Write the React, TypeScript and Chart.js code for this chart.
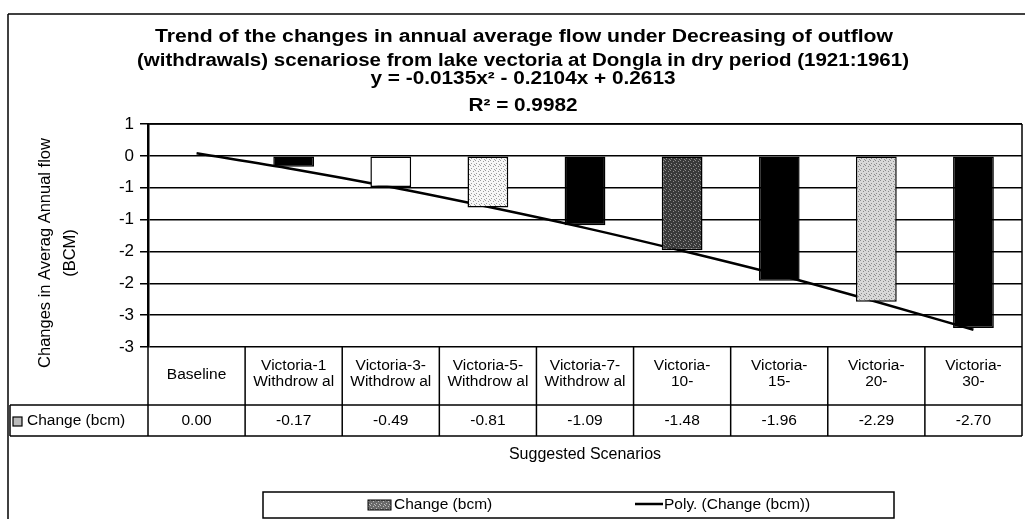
import React, { useEffect, useRef } from 'react';
import { Chart, registerables } from 'chart.js';

Chart.register(...registerables);

// ---------------- data ----------------
const CATEGORY_LINES: string[][] = [
  ['Baseline'],
  ['Victoria-1', 'Withdrow al'],
  ['Victoria-3-', 'Withdrow al'],
  ['Victoria-5-', 'Withdrow al'],
  ['Victoria-7-', 'Withdrow al'],
  ['Victoria-', '10-'],
  ['Victoria-', '15-'],
  ['Victoria-', '20-'],
  ['Victoria-', '30-'],
];
const CHANGE = [0.0, -0.17, -0.49, -0.81, -1.09, -1.48, -1.96, -2.29, -2.7];
// polynomial trend line values read at each category
const TREND = [0.04, -0.21, -0.49, -0.8, -1.13, -1.49, -1.87, -2.29, -2.73];
const Y_TICKS = [0.5, 0, -0.5, -1, -1.5, -2, -2.5, -3];
const Y_TICK_LABELS = ['1', '0', '-1', '-1', '-2', '-2', '-3', '-3'];

const TITLE_LINES = [
  'Trend of the changes in annual average flow under Decreasing of outflow',
  '(withdrawals) scenariose from lake vectoria at Dongla in dry period (1921:1961)',
];
const EQUATION = 'y = -0.0135x² - 0.2104x + 0.2613';
const R_SQUARED = 'R² = 0.9982';
const Y_TITLE = ['Changes in Averag Annual flow', '(BCM)'];
const X_TITLE = 'Suggested Scenarios';
const SERIES_NAME = 'Change (bcm)';
const TREND_NAME = 'Poly. (Change (bcm))';

// ---------------- styles ----------------
// [base colour, speckle colour] per bar
const BAR_STYLES: [string, string | null][] = [
  ['#000000', null],
  ['#000000', null],
  ['#ffffff', null],
  ['#f6f6f6', '#9a9a9a'],
  ['#000000', null],
  ['#3a3a3a', '#8c8c8c'],
  ['#000000', null],
  ['#d8d8d8', '#8a8a8a'],
  ['#000000', null],
];
const FONT = '"Liberation Sans", Arial, sans-serif';

function makeFill(base: string, speck: string | null): any {
  if (!speck) return base;
  const c = document.createElement('canvas');
  c.width = 5;
  c.height = 5;
  const g = c.getContext('2d')!;
  g.fillStyle = base;
  g.fillRect(0, 0, 5, 5);
  g.fillStyle = speck;
  g.fillRect(0, 0, 1, 1);
  g.fillRect(3, 1, 1, 1);
  g.fillRect(1, 3, 1, 1);
  g.fillRect(4, 4, 1, 1);
  return g.createPattern(c, 'repeat');
}

function fitText(ctx: CanvasRenderingContext2D, text: string, cx: number, cy: number, font: string, width: number) {
  ctx.save();
  ctx.font = font;
  ctx.textAlign = 'center';
  ctx.textBaseline = 'middle';
  const w = ctx.measureText(text).width;
  ctx.translate(cx, cy);
  ctx.scale(width / w, 1);
  ctx.fillText(text, 0, 0);
  ctx.restore();
}

function line(ctx: CanvasRenderingContext2D, x1: number, y1: number, x2: number, y2: number, w = 1.5) {
  ctx.save();
  ctx.strokeStyle = '#000';
  ctx.lineWidth = w;
  ctx.beginPath();
  ctx.moveTo(x1, y1);
  ctx.lineTo(x2, y2);
  ctx.stroke();
  ctx.restore();
}

const decorPlugin = {
  id: 'decor',
  beforeDraw(chart: any) {
    const ctx = chart.ctx as CanvasRenderingContext2D;
    ctx.save();
    ctx.fillStyle = '#fff';
    ctx.fillRect(0, 0, chart.width, chart.height);
    ctx.restore();
  },
  afterDraw(chart: any) {
    const ctx = chart.ctx as CanvasRenderingContext2D;
    const area = chart.chartArea;
    const xs = chart.scales.x;
    const n = CATEGORY_LINES.length;
    const colW = (area.right - area.left) / n;
    ctx.save();
    ctx.fillStyle = '#000';

    // outer chart border
    line(ctx, 8, 14, chart.width, 14, 1.5);
    line(ctx, 8, 14, 8, chart.height, 1.5);

    // plot area border (top + right)
    line(ctx, area.left, area.top, area.right, area.top, 1.5);
    line(ctx, area.right, area.top, area.right, area.bottom, 1.5);

    // title, equation, R²
    ctx.fillStyle = '#000';
    fitText(ctx, TITLE_LINES[0], 524, 37, `bold 18px ${FONT}`, 738);
    fitText(ctx, TITLE_LINES[1], 523, 61, `bold 18px ${FONT}`, 772);
    fitText(ctx, EQUATION, 523, 79, `bold 18px ${FONT}`, 305);
    fitText(ctx, R_SQUARED, 523, 106, `bold 18px ${FONT}`, 109);

    // y-axis title (rotated)
    ctx.save();
    ctx.font = `16.5px ${FONT}`;
    ctx.textAlign = 'center';
    ctx.textBaseline = 'middle';
    ctx.translate(45, 253);
    ctx.rotate(-Math.PI / 2);
    ctx.fillText(Y_TITLE[0], 0, 0);
    ctx.fillText(Y_TITLE[1], 0, 25);
    ctx.restore();

    // data table
    const headTop = area.bottom;
    const headBottom = 405;
    const rowBottom = 436;
    for (let i = 0; i <= n; i++) {
      const x = area.left + i * colW;
      line(ctx, x, headTop, x, rowBottom, 1.5);
    }
    line(ctx, 10, headBottom, area.right, headBottom, 1.5);
    line(ctx, 10, rowBottom, area.right, rowBottom, 1.5);
    line(ctx, 10, headBottom, 10, rowBottom, 1.5);

    ctx.font = `15.5px ${FONT}`;
    ctx.textAlign = 'center';
    ctx.textBaseline = 'middle';
    ctx.fillStyle = '#000';
    CATEGORY_LINES.forEach((lines, i) => {
      const cx = xs.getPixelForValue(i);
      if (lines.length === 1) {
        ctx.fillText(lines[0], cx, 375);
      } else {
        ctx.fillText(lines[0], cx, 366);
        ctx.fillText(lines[1], cx, 382);
      }
      ctx.fillText(CHANGE[i].toFixed(2), cx, 421);
    });

    // legend key in table
    ctx.save();
    ctx.fillStyle = '#bbb';
    ctx.fillRect(13, 417, 9, 9);
    ctx.strokeStyle = '#000';
    ctx.lineWidth = 1.2;
    ctx.strokeRect(13, 417, 9, 9);
    ctx.restore();
    ctx.textAlign = 'left';
    ctx.fillText(SERIES_NAME, 27, 421);

    // x-axis title
    ctx.textAlign = 'center';
    ctx.font = `16px ${FONT}`;
    ctx.fillText(X_TITLE, (area.left + area.right) / 2, 455);

    // legend box
    ctx.save();
    ctx.strokeStyle = '#000';
    ctx.lineWidth = 1.5;
    ctx.strokeRect(263, 492, 631, 26);
    ctx.restore();
    ctx.save();
    ctx.fillStyle = makeFill('#6a6a6a', '#bdbdbd');
    ctx.fillRect(368, 500, 23, 10);
    ctx.strokeStyle = '#000';
    ctx.lineWidth = 1;
    ctx.strokeRect(368, 500, 23, 10);
    ctx.restore();
    ctx.font = `15.5px ${FONT}`;
    ctx.textAlign = 'left';
    ctx.fillText(SERIES_NAME, 394, 505);
    line(ctx, 635, 504, 663, 504, 2.5);
    ctx.fillText(TREND_NAME, 664, 505);

    ctx.restore();
  },
};

export default function App() {
  const ref = useRef<HTMLCanvasElement | null>(null);

  useEffect(() => {
    if (!ref.current) return;
    const fills = BAR_STYLES.map(([b, s]) => makeFill(b, s));
    const chart = new Chart(ref.current, {
      type: 'bar',
      data: {
        labels: CATEGORY_LINES.map((l) => l.join(' ')),
        datasets: [
          {
            type: 'bar',
            label: SERIES_NAME,
            data: CHANGE,
            backgroundColor: fills,
            borderColor: '#000',
            borderWidth: 1.5,
            borderSkipped: false,
            barPercentage: 0.42,
            categoryPercentage: 1,
            order: 0,
          } as any,
          {
            type: 'line',
            label: TREND_NAME,
            data: TREND,
            borderColor: '#000',
            borderWidth: 2.5,
            pointRadius: 0,
            fill: false,
            cubicInterpolationMode: 'monotone',
            order: 1,
          } as any,
        ],
      },
      options: {
        responsive: false,
        animation: false,
        layout: { padding: { left: 0, top: 124, right: 3, bottom: 172 } },
        plugins: {
          legend: { display: false },
          title: { display: false },
          tooltip: { enabled: false },
        },
        scales: {
          x: { display: false, offset: true },
          y: {
            min: -3,
            max: 0.5,
            afterFit: (s: any) => {
              s.width = 148;
            },
            afterBuildTicks: (s: any) => {
              s.ticks = Y_TICKS.slice().reverse().map((v) => ({ value: v }));
            },
            ticks: {
              color: '#000',
              padding: 6,
              font: { family: FONT, size: 17 },
              callback: (v: any) => {
                const i = Y_TICKS.indexOf(Number(v));
                return i >= 0 ? Y_TICK_LABELS[i] : '';
              },
            },
            grid: { color: '#000', lineWidth: 1.5, drawTicks: true, tickLength: 8, tickColor: '#000' },
            border: { display: true, color: '#000', width: 2.5 },
          },
        },
      },
      plugins: [decorPlugin],
    });
    return () => chart.destroy();
  }, []);

  return (
    <div style={{ position: 'absolute', left: 0, top: 0, width: 1025, height: 519, background: '#fff' }}>
      <canvas ref={ref} width={1025} height={519} />
    </div>
  );
}
